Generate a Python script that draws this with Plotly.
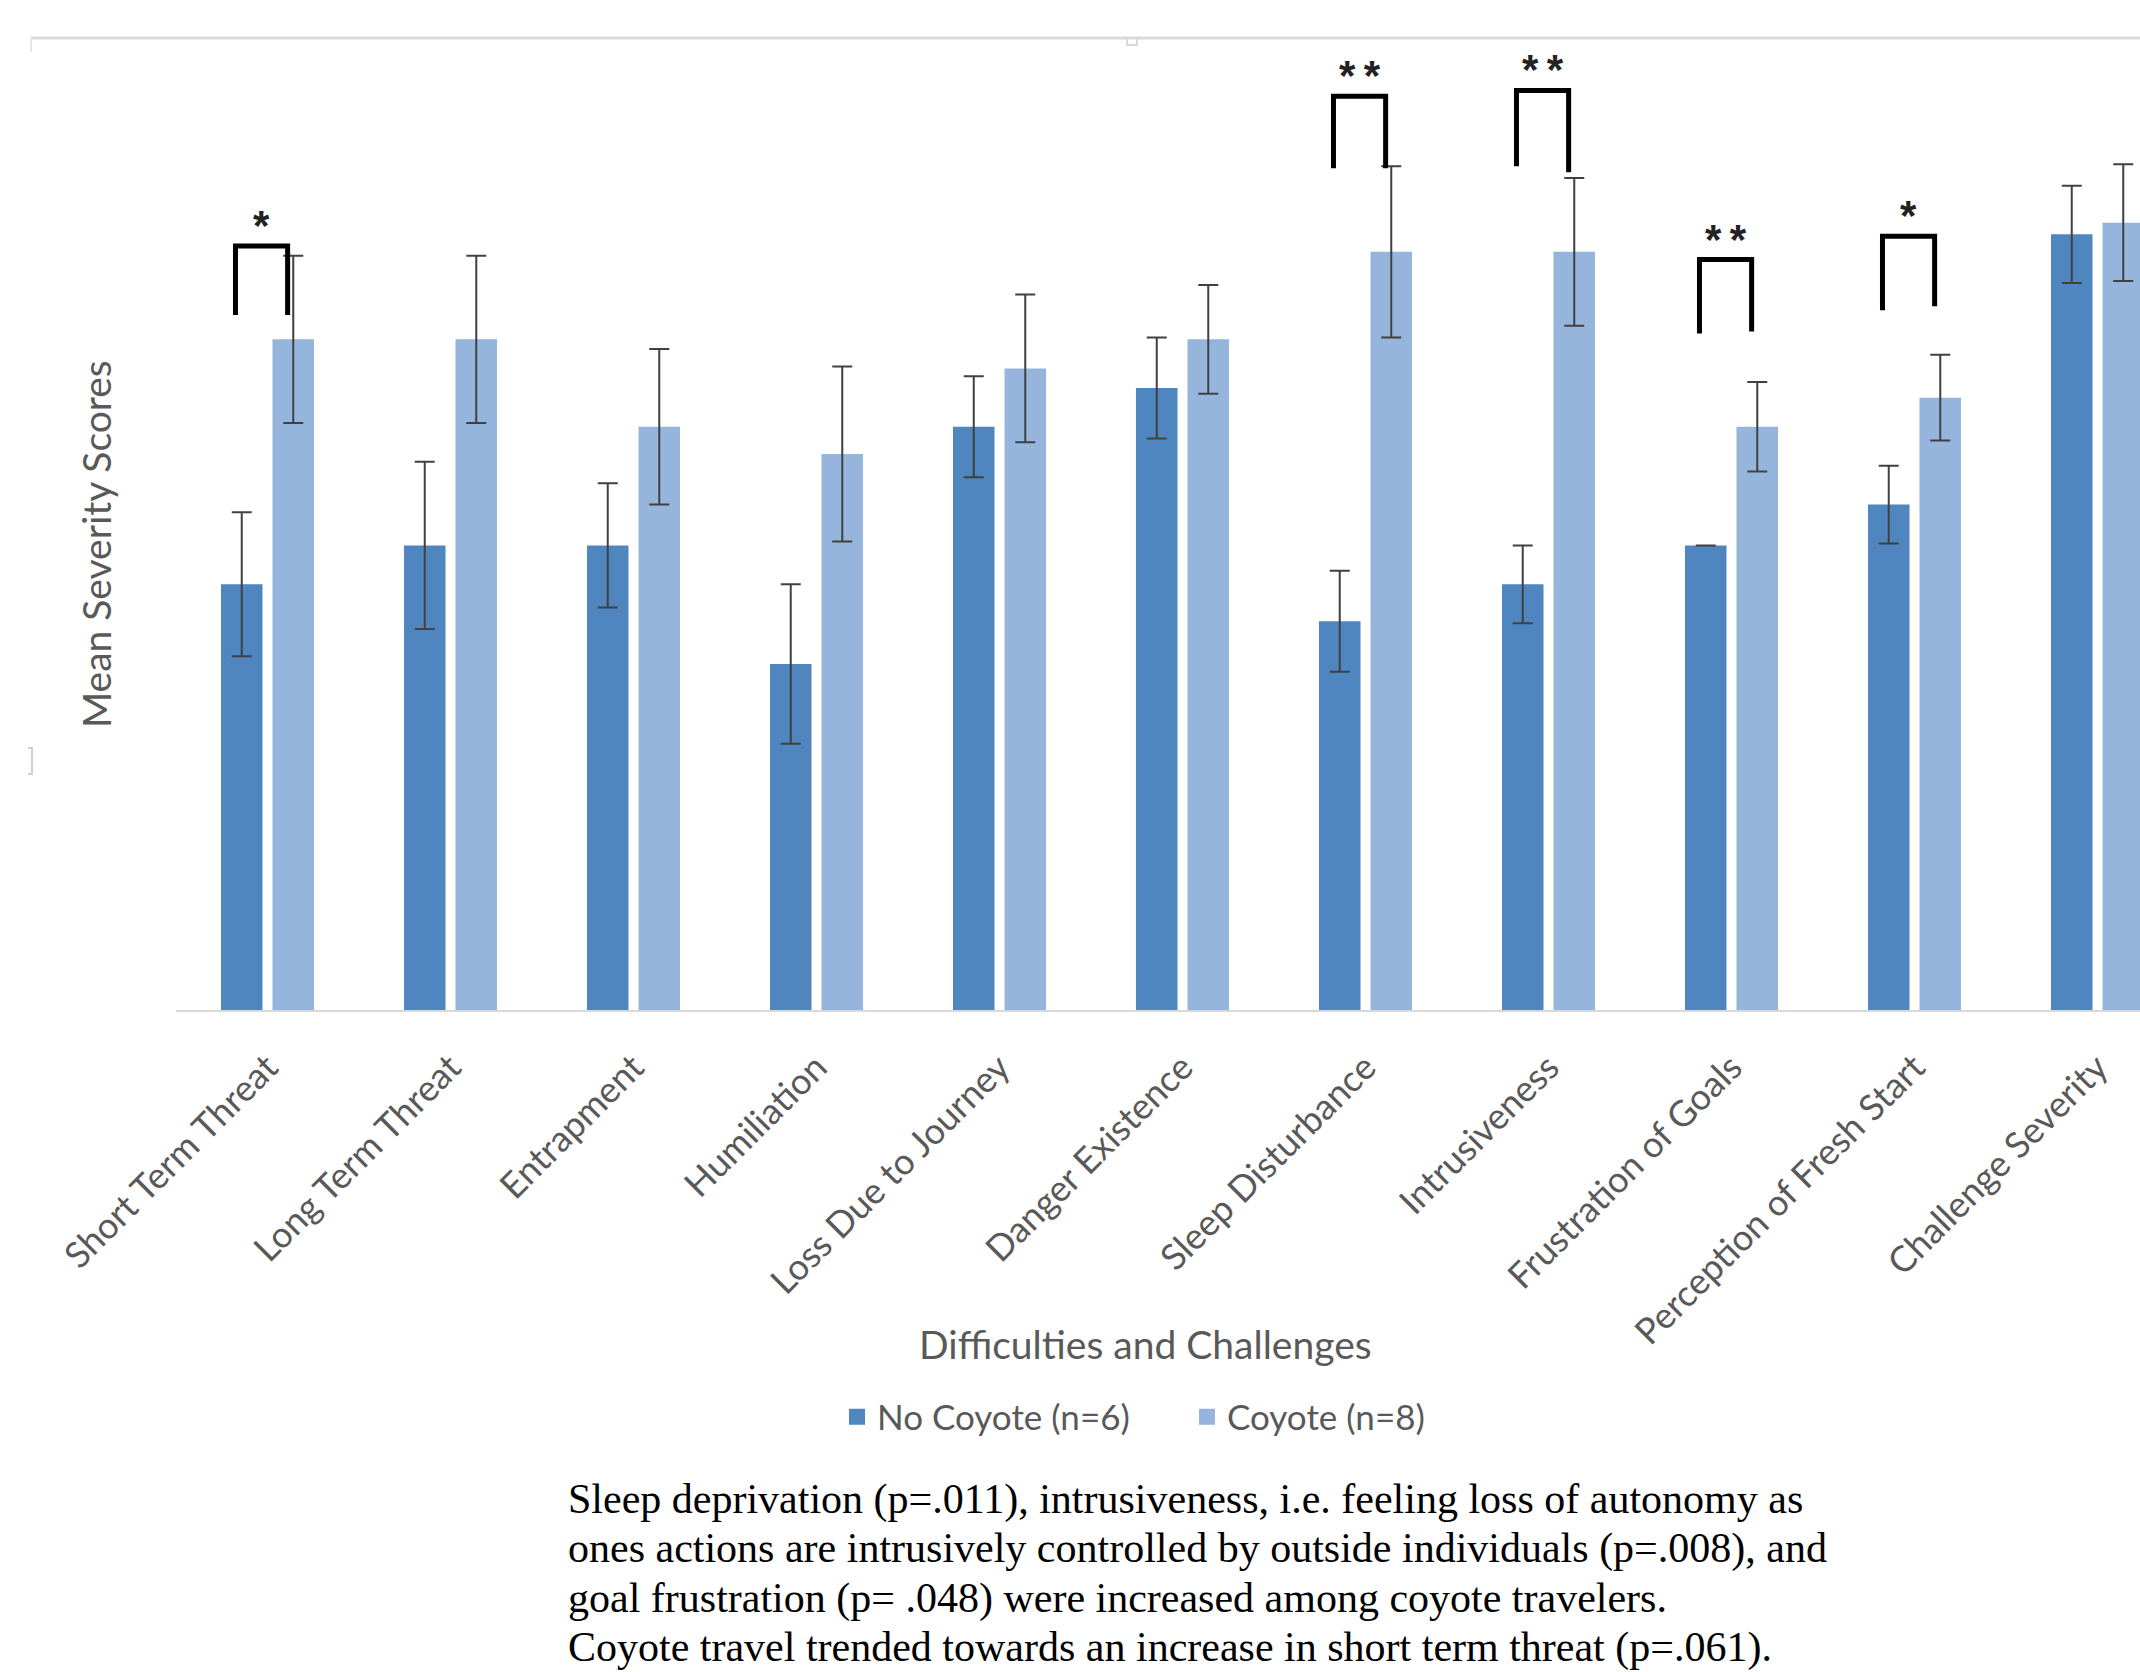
import plotly.graph_objects as go

# ---- data -------------------------------------------------------------
categories = [
    "Short Term Threat", "Long Term Threat", "Entrapment", "Humiliation",
    "Loss Due to Journey", "Danger Existence", "Sleep Disturbance",
    "Intrusiveness", "Frustration of Goals", "Perception of Fresh Start",
    "Challenge Severity",
]
no_coyote_mean = [2.19, 2.39, 2.39, 1.78, 3.00, 3.20, 2.00, 2.19, 2.39, 2.60, 3.99]
no_coyote_err = [0.37, 0.43, 0.32, 0.41, 0.26, 0.26, 0.26, 0.20, 0.00, 0.20, 0.25]
coyote_mean = [3.45, 3.45, 3.00, 2.86, 3.30, 3.45, 3.90, 3.90, 3.00, 3.15, 4.05]
coyote_err = [0.43, 0.43, 0.40, 0.45, 0.38, 0.28, 0.44, 0.38, 0.23, 0.22, 0.30]

series_names = ["No Coyote (n=6)", "Coyote (n=8)"]

# significance markers between the two groups
sig_categories = ["Short Term Threat", "Sleep Disturbance", "Intrusiveness",
                  "Frustration of Goals", "Perception of Fresh Start"]
sig_stars = ["*", "**", "**", "**", "*"]

caption_lines = [
    "Sleep deprivation (p=.011), intrusiveness, i.e. feeling loss of autonomy as",
    "ones actions are intrusively controlled by outside individuals (p=.008), and",
    "goal frustration (p= .048) were increased among coyote travelers.",
    "Coyote travel trended towards an increase in short term threat (p=.061).",
]

# ---- layout geometry (pixels) -----------------------------------------
W, H = 2140, 1672
M_L, M_R, M_T, M_B = 176, 0, 38, 662
PLOT_W = W - M_L - M_R
PLOT_H = H - M_T - M_B
CAT_PX = 183.0
Y_MAX = 5.0


def px_x(px):
    return (px - M_L) / PLOT_W


def px_y(py):
    return (H - M_B - py) / PLOT_H


x_idx = list(range(len(categories)))

DARK = "#4F86C0"
LIGHT = "#95B5DC"
ERR = "#404040"
GREY_TXT = "#595959"
SANS = "Lato"

fig = go.Figure()
series = [
    (series_names[0], no_coyote_mean, no_coyote_err, DARK),
    (series_names[1], coyote_mean, coyote_err, LIGHT),
]
for name, means, errs, color in series:
    fig.add_trace(go.Bar(
        x=x_idx, y=means, name=name, showlegend=False, legendgroup=name,
        marker=dict(color=color, line=dict(width=0)),
        error_y=dict(type="data", array=errs, visible=True,
                     color=ERR, thickness=2, width=10),
    ))
# legend swatches (square keys)
for name, _, _, color in series:
    fig.add_trace(go.Scatter(
        x=[None], y=[None], name=name, mode="markers", legendgroup=name,
        marker=dict(symbol="square", size=16, color=color),
    ))

# significance brackets and stars
bracket_top = [3.93, 4.70, 4.73, 3.86, 3.98]
bracket_left_foot = [3.575, 4.33, 4.34, 3.48, 3.60]
bracket_right_foot = [3.575, 4.33, 4.31, 3.49, 3.62]
shapes = []
annotations = []
for cat, stars, top, lf, rf in zip(sig_categories, sig_stars, bracket_top,
                                    bracket_left_foot, bracket_right_foot):
    i = categories.index(cat)
    x0, x1 = i - 0.175, i + 0.11
    shapes.append(dict(
        type="path", xref="x", yref="y",
        path=f"M {x0},{lf} L {x0},{top} L {x1},{top} L {x1},{rf}",
        line=dict(color="black", width=5),
    ))
    annotations.append(dict(
        x=(x0 + x1) / 2, y=top, xref="x", yref="y",
        text="\u2009".join(stars),
        showarrow=False, yanchor="bottom", xanchor="center", yshift=-5,
        font=dict(family="Liberation Sans", size=42, color="#222222",
                  weight="bold"),
    ))

# outer frame remnant along the top
shapes.append(dict(type="line", xref="paper", yref="paper",
                   x0=px_x(31), x1=1.0, y0=px_y(38), y1=px_y(38),
                   line=dict(color="#d9d9d9", width=3)))
shapes.append(dict(type="line", xref="paper", yref="paper",
                   x0=px_x(31), x1=px_x(31), y0=px_y(38), y1=px_y(52),
                   line=dict(color="#e6e6e6", width=2)))
shapes.append(dict(type="path", xref="paper", yref="paper",
                   path=(f"M {px_x(1127)},{px_y(38)} L {px_x(1127)},{px_y(45)} "
                         f"L {px_x(1137)},{px_y(45)} L {px_x(1137)},{px_y(38)}"),
                   line=dict(color="#d9d9d9", width=2)))
shapes.append(dict(type="path", xref="paper", yref="paper",
                   path=(f"M {px_x(28)},{px_y(748)} L {px_x(32)},{px_y(748)} "
                         f"L {px_x(32)},{px_y(774)} L {px_x(28)},{px_y(774)}"),
                   line=dict(color="#d0d0d0", width=2)))

# axis titles
annotations.append(dict(
    x=px_x(1145), y=px_y(1344), xref="paper", yref="paper",
    text="Difficulties and Challenges", showarrow=False,
    xanchor="center", yanchor="middle",
    font=dict(family=SANS, size=39, color=GREY_TXT),
))
annotations.append(dict(
    x=px_x(96), y=px_y(544), xref="paper", yref="paper",
    text="Mean Severity Scores", showarrow=False, textangle=-90,
    xanchor="center", yanchor="middle",
    font=dict(family=SANS, size=39, color=GREY_TXT),
))

# caption below the chart
for k, line in enumerate(caption_lines):
    annotations.append(dict(
        x=px_x(566), y=px_y(1499 + 49.5 * k), xref="paper", yref="paper",
        text=line, showarrow=False, xanchor="left", yanchor="middle",
        font=dict(family="Liberation Serif", size=42, color="black"),
    ))

fig.update_layout(
    width=W, height=H,
    margin=dict(l=M_L, r=M_R, t=M_T, b=M_B, pad=0),
    paper_bgcolor="white", plot_bgcolor="white",
    barmode="group", bargap=0.437, bargroupgap=0.194,
    showlegend=True,
    legend=dict(
        orientation="h", x=px_x(837), y=px_y(1417),
        xanchor="left", yanchor="middle",
        font=dict(family=SANS, size=35, color=GREY_TXT),
        bgcolor="rgba(0,0,0,0)", itemsizing="trace",
        entrywidth=305, entrywidthmode="pixels",
    ),
    shapes=shapes, annotations=annotations,
    xaxis=dict(
        range=[-0.5, -0.5 + PLOT_W / CAT_PX],
        tickvals=x_idx, ticktext=categories, tickangle=-45,
        ticks="", ticklabelstandoff=20,
        tickfont=dict(family=SANS, size=36, color=GREY_TXT),
        showline=True, linecolor="#d9d9d9", linewidth=2,
        showgrid=False, zeroline=False,
    ),
    yaxis=dict(range=[0, Y_MAX], visible=False, showgrid=False, zeroline=False),
)

fig.write_html("out.html")
